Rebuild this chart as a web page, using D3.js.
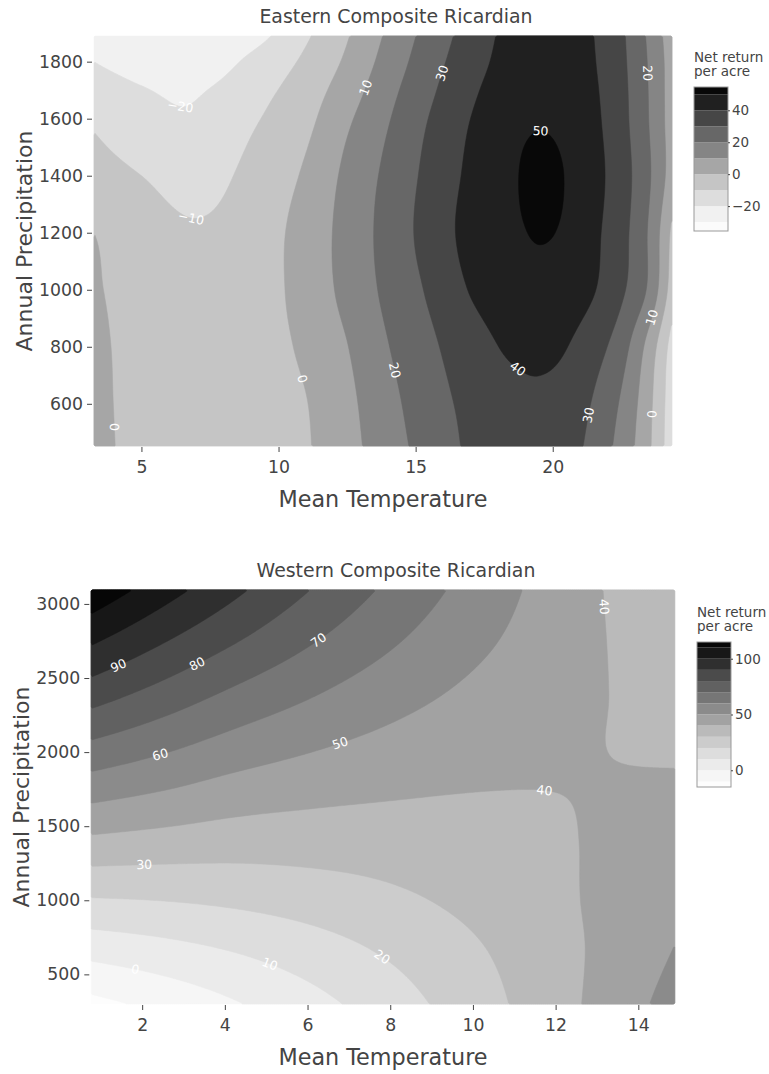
<!DOCTYPE html>
<html>
<head>
<meta charset="utf-8">
<script src="https://cdn.jsdelivr.net/npm/d3@7"></script>
<style>
body{margin:0;background:#fff;}
text{font-family:"DejaVu Sans",Verdana,sans-serif;fill:#444;}
</style>
</head>
<body>
<div id="chart-area"></div>
<script>
// ---- data ----
// Eastern: rows = precipitation, columns = mean temperature
var eastTemp = [3.27, 5, 7, 9, 11, 12.5, 14, 15.5, 17, 18.5, 19.5, 20.5, 21.5, 22.5, 23.5, 24.35];
var eastPrecip = [452, 600, 800, 1000, 1200, 1400, 1600, 1700, 1800, 1890];
var eastReturn = [
  [3, -3, -5.5, -4, -0.8, 6.8, 15.6, 24.2, 31.5, 35.5, 36, 34, 26.7, 16.3, 1.7, -16.6],
  [2.5, -3, -5.5, -4, -0.3, 7.6, 17, 25.7, 32.5, 37, 38, 36, 29, 18.7, 2.7, -16],
  [2, -3, -5.5, -4, 1.8, 9.7, 19.7, 28, 35.8, 41.3, 42.3, 40.2, 34, 24.3, 6.3, -14],
  [1, -3.5, -6, -4.5, 3.8, 12.9, 22.4, 31.3, 40.5, 45, 46.5, 45, 40.5, 31.7, 18.2, -5],
  [0, -5.5, -9, -5.5, 4.1, 13.5, 23.6, 33.8, 43, 48, 50.8, 48.5, 42, 33.3, 19, -2],
  [-5.4, -10, -13.5, -7.5, 1.5, 12.3, 22.4, 32.7, 41.9, 48.5, 53.5, 49.5, 43.2, 34.4, 21.3, 5],
  [-11.7, -17.2, -19, -11.4, -2.6, 8.3, 19.3, 30.3, 40, 47, 49.2, 47.5, 42, 33.2, 20, 5],
  [-16, -19.5, -20.8, -14, -4.9, 5, 16.9, 28.1, 38.1, 45.5, 48.5, 47, 41.3, 32.8, 19.7, 5],
  [-20, -23, -25.5, -18.1, -8.1, 1.7, 14, 25.8, 35.8, 44, 47.5, 46, 40.5, 32.2, 19.2, 5],
  [-22, -25, -27, -23.7, -11.3, -0.7, 11.7, 23.8, 34.1, 43, 46, 44.5, 40, 31.7, 18.3, 4]
];
var eastLevels = [-30, -20, -10, 0, 10, 20, 30, 40, 50];
var eastColorRange = [-35.6, 54.6];
var eastTicksX = [5, 10, 15, 20];
var eastTicksY = [600, 800, 1000, 1200, 1400, 1600, 1800];
var eastTicksBar = [-20, 0, 20, 40];
var eastLabels = [
  {level: -20, t: 6.41, p: 1638}, {level: -10, t: 6.78, p: 1241},
  {level: 10, t: 13.2, p: 1708}, {level: 30, t: 15.94, p: 1760},
  {level: 50, t: 19.55, p: 1545}, {level: 20, t: 23.46, p: 1760},
  {level: 0, t: 10.97, p: 690}, {level: 20, t: 14.26, p: 718},
  {level: 40, t: 18.53, p: 701}, {level: 30, t: 21.3, p: 560},
  {level: 10, t: 23.67, p: 901}, {level: 0, t: 23.64, p: 564},
  {level: 0, t: 3.9, p: 518}
];

// Western
var westTemp = [0.77, 2.5, 4.25, 6, 7.75, 9.5, 11.25, 13, 14.88];
var westPrecip = [300, 650, 1000, 1350, 1700, 2050, 2400, 2750, 3094];
var westReturn = [
  [-12.8, -7.2, -0.8, 6.3, 14.2, 22.8, 32.1, 42.2, 53.8],
  [2.8, 6.1, 10.1, 14.9, 20.4, 26.6, 33.6, 41.3, 50.4],
  [19.2, 20.2, 21.9, 24.3, 27.4, 31.3, 35.9, 41.3, 47.9],
  [35.7, 34.3, 33.2, 33.3, 34.0, 35.6, 37.8, 40.8, 44.9],
  [52.1, 48.4, 44.5, 42.2, 40.7, 39.8, 39.7, 40.4, 41.9],
  [68.5, 62.5, 56.3, 51.6, 47.7, 44.5, 42.1, 40.2, 38.6],
  [85.0, 76.6, 68.3, 61.3, 55.0, 49.5, 44.7, 40.6, 37.0],
  [101.4, 90.7, 80.6, 71.2, 62.5, 54.6, 47.5, 40.8, 34.9],
  [117.5, 104.5, 92.1, 80.4, 69.4, 59.2, 49.7, 40.7, 32.4]
];
var westLevels = [-10, 0, 10, 20, 30, 40, 50, 60, 70, 80, 90, 100, 110];
var westColorRange = [-15, 115];
var westTicksX = [2, 4, 6, 8, 10, 12, 14];
var westTicksY = [500, 1000, 1500, 2000, 2500, 3000];
var westTicksBar = [0, 50, 100];
var westLabels = [
  {level: 90, t: 1.42, p: 2588}, {level: 80, t: 3.33, p: 2595},
  {level: 70, t: 6.26, p: 2757}, {level: 60, t: 2.44, p: 1981},
  {level: 50, t: 6.81, p: 2041}, {level: 40, t: 13.12, p: 2980},
  {level: 40, t: 11.72, p: 1724}, {level: 30, t: 2.05, p: 1238},
  {level: 20, t: 7.75, p: 597}, {level: 10, t: 5.07, p: 556},
  {level: 0, t: 1.83, p: 529}
];

// ---- drawing ----
var svg = d3.select("#chart-area").append("svg")
  .attr("width", 769)
  .attr("height", 1074);

var greys = ["#ffffff","#f0f0f0","#d9d9d9","#bdbdbd","#969696","#737373","#525252","#252525","#000000"];
var greyScale = d3.scaleLinear().domain(greys.map((d,i)=>i/8)).range(greys).clamp(true);
var fmt = d3.format("d");

// smooth cubic through the read values (three-point slopes)
function hermite(xs, ys){
  var n = xs.length, h = [], s = [], m = [];
  for (var k = 0; k < n-1; k++){ h[k] = xs[k+1]-xs[k]; s[k] = (ys[k+1]-ys[k])/h[k]; }
  for (var k = 1; k < n-1; k++){
    m[k] = (s[k-1]*h[k] + s[k]*h[k-1])/(h[k-1]+h[k]);
  }
  m[0] = (3*s[0]-m[1])/2;
  m[n-1] = (3*s[n-2]-m[n-2])/2;
  return function(x){
    var k = Math.max(0, Math.min(n-2, d3.bisectRight(xs, x)-1));
    var t = (x-xs[k])/h[k], t2 = t*t, t3 = t2*t;
    return (2*t3-3*t2+1)*ys[k] + (t3-2*t2+t)*h[k]*m[k] + (-2*t3+3*t2)*ys[k+1] + (t3-t2)*h[k]*m[k+1];
  };
}

function drawChart(o){
  var g = svg.append("g");
  var x = d3.scaleLinear().domain(d3.extent(o.temp)).range([o.left, o.right]);
  var y = d3.scaleLinear().domain(d3.extent(o.precip)).range([o.bottom, o.top]);
  var W = o.right-o.left, H = o.bottom-o.top;
  var nx = Math.round(W/2), ny = Math.round(H/2);
  var colFns = o.temp.map((t,i)=>hermite(o.precip, o.z.map(r=>r[i])));
  function field(t, p){ return hermite(o.temp, colFns.map(f=>f(p)))(t); }

  var values = new Array(nx*ny);
  for (var j = 0; j < ny; j++){
    var rowFn = hermite(o.temp, colFns.map(f=>f(y.invert(o.top+(j+0.5)*H/ny))));
    for (var i = 0; i < nx; i++) values[j*nx+i] = rowFn(x.invert(o.left+(i+0.5)*W/nx));
  }

  var cr = o.colorRange;
  function bandColor(lo, hi){
    lo = Math.max(lo, cr[0]); hi = Math.min(hi, cr[1]);
    return greyScale(((lo+hi)/2 - cr[0])/(cr[1]-cr[0]));
  }

  var proj = d3.geoTransform({point: function(px, py){
    this.stream.point(o.left + px*W/nx, o.top + py*H/ny);
  }});
  var path = d3.geoPath(proj);

  g.append("rect")
    .attr("x", o.left).attr("y", o.top).attr("width", W).attr("height", H)
    .attr("fill", bandColor(cr[0], o.levels[0]));

  var contours = d3.contours().size([nx, ny]).thresholds(o.levels)(values);
  g.selectAll("path.band").data(contours).enter().append("path")
    .attr("class", "band")
    .attr("d", path)
    .attr("fill", (d,i)=>bandColor(o.levels[i], i < o.levels.length-1 ? o.levels[i+1] : cr[1]))
    .attr("stroke", (d,i)=>bandColor(o.levels[i], i < o.levels.length-1 ? o.levels[i+1] : cr[1]))
    .attr("stroke-width", 0.5);

  // contour labels, snapped onto the contour and turned along it
  function zpx(px, py){ return field(x.invert(px), y.invert(py)); }
  o.labels.forEach(function(l){
    var px = x(l.t), py = y(l.p), gx = 0, gy = 0;
    for (var it = 0; it < 6; it++){
      gx = (zpx(px+1,py)-zpx(px-1,py))/2; gy = (zpx(px,py+1)-zpx(px,py-1))/2;
      var gg = gx*gx+gy*gy; if (!gg) break;
      var dz = zpx(px,py)-l.level;
      var step = Math.max(-8, Math.min(8, dz/Math.sqrt(gg)));
      px -= step*gx/Math.sqrt(gg); py -= step*gy/Math.sqrt(gg);
    }
    var ang = Math.atan2(gy, gx)*180/Math.PI + 90;
    while (ang > 90) ang -= 180;
    while (ang <= -90) ang += 180;
    g.append("text")
      .attr("transform", "translate("+px+","+py+") rotate("+ang+")")
      .attr("text-anchor", "middle")
      .attr("dy", "0.35em")
      .attr("font-size", "12.5px")
      .style("fill", "#fff")
      .text(fmt(l.level));
  });

  // axes
  var xa = g.append("g")
    .attr("transform", "translate(0,"+(o.bottom+1)+")")
    .call(d3.axisBottom(x).tickValues(o.ticksX).tickSize(5).tickPadding(9).tickFormat(fmt));
  var ya = g.append("g")
    .attr("transform", "translate("+(o.left-2)+",0)")
    .call(d3.axisLeft(y).tickValues(o.ticksY).tickSize(5).tickPadding(4).tickFormat(fmt));
  [xa, ya].forEach(function(a){
    a.select(".domain").remove();
    a.selectAll("line").attr("stroke", "#444");
    a.selectAll("text").attr("font-size", "17.3px").attr("font-family", null).style("fill", "#444");
  });

  g.append("text")
    .attr("x", o.titleX).attr("y", o.top-13)
    .attr("text-anchor", "middle")
    .attr("font-size", "18.9px")
    .text(o.title);
  g.append("text")
    .attr("x", (o.left+o.right)/2).attr("y", o.bottom+61)
    .attr("text-anchor", "middle")
    .attr("font-size", "22.3px")
    .text("Mean Temperature");
  g.append("text")
    .attr("transform", "translate("+o.yTitleX+","+((o.top+o.bottom)/2)+") rotate(-90)")
    .attr("text-anchor", "middle")
    .attr("font-size", "22px")
    .text("Annual Precipitation");

  // colorbar
  var cb = o.bar;
  var cy = d3.scaleLinear().domain(cr).range([cb.y1, cb.y0]);
  var edges = [cr[0]].concat(o.levels.filter(l=>l>cr[0] && l<cr[1])).concat([cr[1]]);
  g.selectAll("rect.cb").data(d3.pairs(edges)).enter().append("rect")
    .attr("class", "cb")
    .attr("x", cb.x0).attr("width", cb.x1-cb.x0)
    .attr("y", d=>cy(d[1])).attr("height", d=>cy(d[0])-cy(d[1]))
    .attr("fill", d=>bandColor(d[0], d[1]));
  g.append("rect")
    .attr("x", cb.x0).attr("y", cb.y0).attr("width", cb.x1-cb.x0).attr("height", cb.y1-cb.y0)
    .attr("fill", "none").attr("stroke", "#999").attr("stroke-width", 1);
  var ca = g.append("g")
    .attr("transform", "translate("+cb.x1+",0)")
    .call(d3.axisRight(cy).tickValues(o.ticksBar).tickSize(2).tickPadding(2).tickFormat(fmt));
  ca.select(".domain").remove();
  ca.selectAll("line").attr("stroke", "#444");
  ca.selectAll("text").attr("font-size", "13.5px").attr("font-family", null).style("fill", "#444");
  g.append("text").attr("x", cb.x0).attr("y", cb.y0-25).attr("font-size", "13.5px").text("Net return");
  g.append("text").attr("x", cb.x0).attr("y", cb.y0-11).attr("font-size", "13.5px").text("per acre");
}

drawChart({
  temp: eastTemp, precip: eastPrecip, z: eastReturn, levels: eastLevels,
  colorRange: eastColorRange, ticksX: eastTicksX, ticksY: eastTicksY, ticksBar: eastTicksBar,
  labels: eastLabels, title: "Eastern Composite Ricardian",
  left: 94, right: 672, top: 36, bottom: 446, titleX: 396, yTitleX: 32,
  bar: {x0: 694, x1: 728, y0: 87, y1: 231}
});

drawChart({
  temp: westTemp, precip: westPrecip, z: westReturn, levels: westLevels,
  colorRange: westColorRange, ticksX: westTicksX, ticksY: westTicksY, ticksBar: westTicksBar,
  labels: westLabels, title: "Western Composite Ricardian",
  left: 91.3, right: 674.7, top: 590, bottom: 1004, titleX: 396, yTitleX: 29,
  bar: {x0: 697, x1: 731, y0: 642, y1: 787}
});
</script>
</body>
</html>
